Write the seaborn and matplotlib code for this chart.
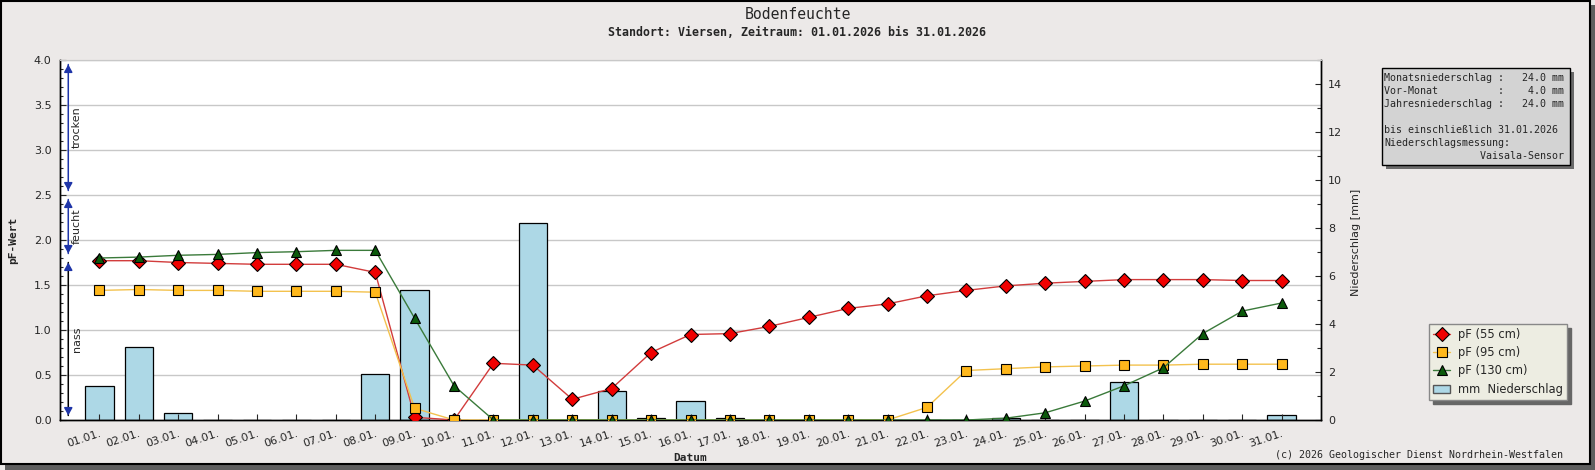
import matplotlib
matplotlib.use("Agg")
import matplotlib.pyplot as plt
from matplotlib.lines import Line2D
from matplotlib.patches import Patch, Rectangle
from matplotlib.ticker import MultipleLocator, FormatStrFormatter
import numpy as np
import pandas as pd
import seaborn as sns

# Werte (Januar 2026, Viersen)
days = ["01.01.", "02.01.", "03.01.", "04.01.", "05.01.", "06.01.", "07.01.", "08.01.",
        "09.01.", "10.01.", "11.01.", "12.01.", "13.01.", "14.01.", "15.01.", "16.01.",
        "17.01.", "18.01.", "19.01.", "20.01.", "21.01.", "22.01.", "23.01.", "24.01.",
        "25.01.", "26.01.", "27.01.", "28.01.", "29.01.", "30.01.", "31.01."]
pf_55 = [1.77, 1.77, 1.75, 1.74, 1.73, 1.73, 1.73, 1.64, 0.03, 0.00, 0.63, 0.61, 0.23, 0.35,
         0.75, 0.95, 0.96, 1.04, 1.14, 1.24, 1.29, 1.38, 1.44, 1.49, 1.52, 1.54, 1.56, 1.56,
         1.56, 1.55, 1.55]
pf_95 = [1.44, 1.45, 1.44, 1.44, 1.43, 1.43, 1.43, 1.42, 0.13, 0.00, 0.00, 0.00, 0.00, 0.00,
         0.00, 0.00, 0.00, 0.00, 0.00, 0.00, 0.00, 0.14, 0.55, 0.57, 0.59, 0.60, 0.61, 0.61,
         0.62, 0.62, 0.62]
pf_130 = [1.80, 1.81, 1.83, 1.84, 1.86, 1.87, 1.885, 1.885, 1.13, 0.38, 0.00, 0.00, 0.00, 0.00,
          0.00, 0.00, 0.00, 0.00, 0.00, 0.00, 0.00, 0.00, 0.00, 0.02, 0.08, 0.21, 0.38, 0.58,
          0.96, 1.21, 1.30]
rain_mm = [1.4, 3.05, 0.3, 0.0, 0.0, 0.0, 0.0, 1.9, 5.4, 0.0, 0.0, 8.2, 0.0, 1.2, 0.1, 0.8,
           0.1, 0.0, 0.0, 0.0, 0.0, 0.0, 0.0, 0.1, 0.0, 0.0, 1.6, 0.0, 0.0, 0.0, 0.2]

zone_names = ["nass", "feucht", "trocken"]
zone_bounds = [0.0, 1.8, 2.5, 4.0]

info_lines = [
    "Monatsniederschlag :   24.0 mm",
    "Vor-Monat          :    4.0 mm",
    "Jahresniederschlag :   24.0 mm",
    "",
    "bis einschließlich 31.01.2026",
    "Niederschlagsmessung:",
    "                Vaisala-Sensor",
]

df = pd.DataFrame({"tag": days, "pos": np.arange(len(days)),
                   "pf55": pf_55, "pf95": pf_95, "pf130": pf_130, "rain": rain_mm})

W, H = 1595, 470
BG = "#ECE9E8"

sns.set_style("ticks")
plt.rcParams["font.family"] = ["DejaVu Sans"]

fig = plt.figure(figsize=(W / 100, H / 100), dpi=100, facecolor=BG)


def rect(x0, y0, x1, y1, **kw):
    # rectangle in pixel coordinates (origin top left)
    r = Rectangle((x0 / W, 1 - y1 / H), (x1 - x0) / W, (y1 - y0) / H,
                  transform=fig.transFigure, **kw)
    fig.add_artist(r)
    return r


# frame with shadow
rect(5, 464, 1595, 470, facecolor="#5E5E5E", edgecolor="none", zorder=0)
rect(1590, 5, 1595, 470, facecolor="#5E5E5E", edgecolor="none", zorder=0)
rect(0.5, 0.5, 1590, 464, facecolor="none", edgecolor="black", lw=1.5, zorder=0)

ax = fig.add_axes([60 / W, 50 / H, 1261 / W, 360 / H])
ax2 = ax.twinx()
ax.set_zorder(2)
ax2.set_zorder(1)
ax.patch.set_visible(False)
ax2.patch.set_visible(True)
ax2.patch.set_facecolor("white")

# grid (on the bar axis so that bars cover it)
for v in np.arange(0.5, 4.01, 0.5):
    ax2.axhline(v * 15 / 4, color="#C8C8C8", lw=1, zorder=0)

sns.barplot(data=df, x="pos", y="rain", ax=ax2, native_scale=True, width=0.72,
            color="#ADD8E6", saturation=1, edgecolor="black", linewidth=0.9,
            errorbar=None, zorder=2)

line_styles = [
    ("pf55", "pF (55 cm)", "#D23C3C", "D", "#F00000", 7),
    ("pf95", "pF (95 cm)", "#F3C24E", "s", "#FFB81C", 6.5),
    ("pf130", "pF (130 cm)", "#3A7A3A", "^", "#0B5A0B", 7.5),
]
handles = []
for col, lab, lc, mk, fc, ms in line_styles:
    sns.lineplot(data=df, x="pos", y=col, ax=ax, color=lc, linewidth=1, marker=mk,
                 markersize=ms, markerfacecolor=fc, markeredgecolor="black",
                 markeredgewidth=0.8, zorder=3, legend=False)
    handles.append(Line2D([], [], color=lc, lw=1, marker=mk, markersize=ms,
                          markerfacecolor=fc, markeredgecolor="black", markeredgewidth=0.8))
handles.append(Patch(facecolor="#ADD8E6", edgecolor="#555555"))
labels = [s[1] for s in line_styles] + ["mm  Niederschlag"]

ax.set_xlim(-1, 31)
ax.set_ylim(0, 4)
ax2.set_ylim(0, 15)

# soil moisture zones
xa, xt = -0.79, -0.57
blue = "#1F35A8"
head = "-|>,head_length=0.45,head_width=0.25"
for name, lo, hi in zip(zone_names, zone_bounds[:-1], zone_bounds[1:]):
    a, b = lo + 0.05, hi - 0.05
    shaft = "black" if name == "nass" else blue
    ax.annotate("", xy=(xa, b), xytext=(xa, a),
                arrowprops=dict(arrowstyle="-", color=shaft, lw=1.1, shrinkA=0, shrinkB=0))
    for tip, tail in ((b, b - 0.08), (a, a + 0.08)):
        ax.annotate("", xy=(xa, tip), xytext=(xa, tail),
                    arrowprops=dict(arrowstyle=head, color=blue, lw=1.1, shrinkA=0, shrinkB=0))
    ax.text(xt, (lo + hi) / 2, name, rotation=90, ha="center", va="center", fontsize=8)

# axes styling
ax.yaxis.set_major_locator(MultipleLocator(0.5))
ax.yaxis.set_minor_locator(MultipleLocator(0.1))
ax.yaxis.set_major_formatter(FormatStrFormatter("%.1f"))
ax.tick_params(axis="y", which="major", direction="in", length=4, width=0.8, labelsize=8, pad=6)
ax.tick_params(axis="y", which="minor", direction="in", length=2.5, width=0.8)
ax2.yaxis.set_major_locator(MultipleLocator(2))
ax2.yaxis.set_minor_locator(MultipleLocator(1))
ax2.tick_params(axis="y", which="major", direction="in", length=4.5, width=0.8, labelsize=8, pad=5)
ax2.tick_params(axis="y", which="minor", direction="in", length=3, width=0.8)

ax.set_xticks(df["pos"])
ax.set_xticklabels(days)
ax.tick_params(axis="x", direction="in", length=4, width=0.8, labelsize=8, pad=6)
for t in ax.get_xticklabels():
    t.set_rotation(18)
    t.set_ha("right")
    t.set_rotation_mode("anchor")

for a_ in (ax, ax2):
    for s in ("left", "right", "bottom"):
        a_.spines[s].set_color("black")
        a_.spines[s].set_linewidth(1)
    a_.spines["top"].set_color("#C8C8C8")

ax.set_xlabel("Datum", family="DejaVu Sans Mono", weight="bold", fontsize=8)
ax.xaxis.set_label_coords(0.5, -0.092)
ax.set_ylabel("pF-Wert", family="DejaVu Sans Mono", weight="bold", fontsize=8)
ax.yaxis.set_label_coords(-0.033, 0.5)
ax2.set_ylabel("Niederschlag [mm]", fontsize=8)
ax2.yaxis.set_label_coords(1.0238, 0.494)

# titles
fig.text(0.5, 1 - 14.5 / H, "Bodenfeuchte", ha="center", va="center",
         family="DejaVu Sans Mono", fontsize=10.6)
fig.text(0.5, 1 - 33 / H, "Standort: Viersen, Zeitraum: 01.01.2026 bis 31.01.2026",
         ha="center", va="center", family="DejaVu Sans Mono", weight="bold", fontsize=8.4)

# info box
rect(1386, 72, 1574, 169, facecolor="#6A6A6A", edgecolor="none", zorder=3)
rect(1382, 68, 1570, 165, facecolor="#D3D3D3", edgecolor="black", lw=1, zorder=4)
fig.text(1384 / W, 1 - 73 / H, "\n".join(info_lines), ha="left", va="top",
         family="DejaVu Sans Mono", fontsize=7.2, linespacing=1.37, zorder=5)

# legend
fig.legend(handles, labels, loc="upper left", bbox_to_anchor=(1429 / W, 1 - 324 / H),
           frameon=True, fancybox=False, edgecolor="#888888", facecolor="#EDEDE2",
           framealpha=1, fontsize=8.3, handlelength=1.5, handletextpad=0.7,
           borderpad=0.35, labelspacing=0.45, borderaxespad=0,
           shadow={"ox": 3, "oy": -3, "color": "#666666", "alpha": 1})

fig.text(1563 / W, 1 - 455 / H, "(c) 2026 Geologischer Dienst Nordrhein-Westfalen",
         ha="right", va="center", family="DejaVu Sans Mono", fontsize=7.2)

fig.savefig("out.png", dpi=100, facecolor=BG)
